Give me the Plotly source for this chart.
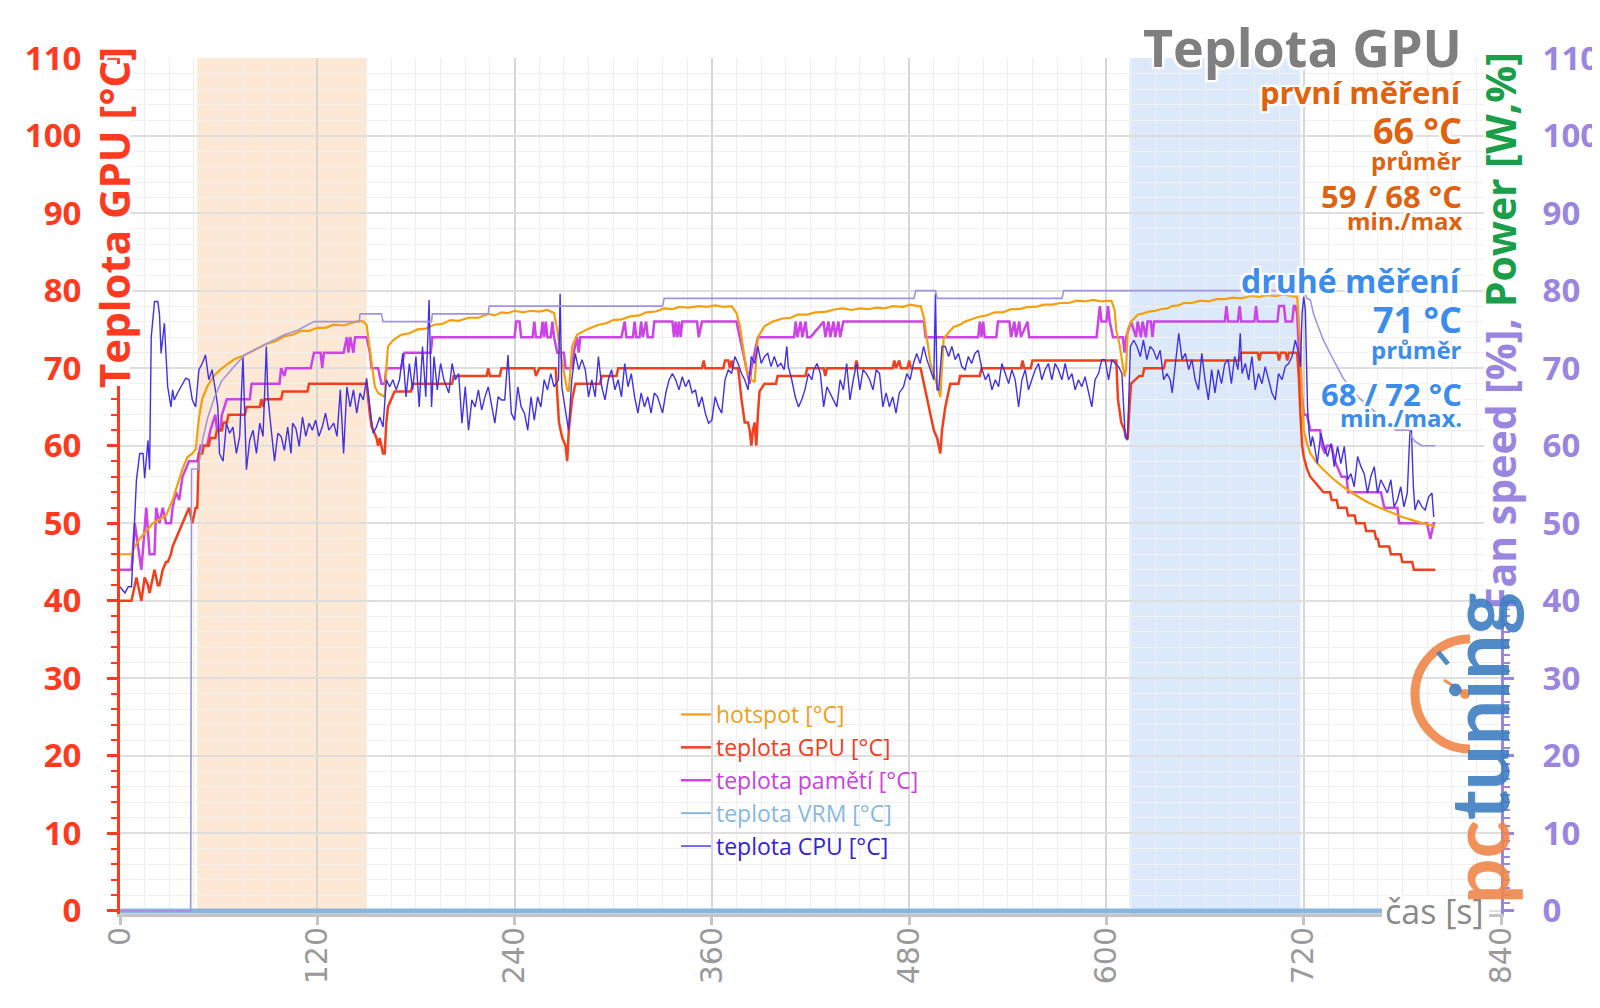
import plotly.graph_objects as go

# ---------------- data (time [s], value) ----------------
hotspot = [(0,46),(7,46),(9,47),(12,48),(16,49),(20,50),(24,50.5),(28,51),(32,53),(35,55),(38,57),(41,58.5),(44,59),(46,59.5),(48,63.5),(50,66),(53,67.6),(57,69),(61,69.8),(66,70.6),(70,71.2),(75,71.6),(80,72.2),(85,72.7),(90,73.2),(95,73.5),(100,74.1),(105,74.3),(110,74.8),(115,74.8),(120,75.2),(125,75.2),(130,75.6),(136,75.5),(142,75.9),(146,76.1),(148,76),(150,75.6),(151,74),(153,71),(155,67.6),(157,66.8),(159,66.5),(161,66.3),(162,70),(163,72.8),(166,73.6),(171,74.3),(176,74.5),(181,75),(186,75.1),(191,75.6),(196,75.7),(201,76.2),(206,76.1),(212,76.5),(218,76.5),(224,77),(228,76.8),(232,77.2),(236,77.1),(240,77.4),(245,77.2),(250,77.4),(255,77.3),(260,77.5),(264,77.1),(266,74.9),(268,71.9),(270,69.5),(272,67.2),(273,67),(274,70),(275,72.8),(278,74.3),(284,75),(291,75.6),(296,75.8),(300,76.2),(305,76.3),(311,76.7),(316,76.8),(320,77.2),(326,77.3),(331,77.7),(336,77.6),(340,77.9),(346,77.8),(352,78),(357,77.9),(362,78.1),(367,77.9),(372,78),(375,77.1),(377,75.5),(379,72.5),(381,69.8),(384,68.5),(386,68.2),(387,71),(388,74),(392,75.4),(397,76),(403,76.4),(408,76.5),(412,76.9),(418,76.9),(423,77.2),(430,77.3),(435,77.6),(440,77.7),(445,77.5),(450,77.7),(455,77.6),(460,77.8),(465,77.7),(470,78),(476,77.9),(481,78.2),(485,78),(487,78),(489,76.5),(491,73.5),(493,70.6),(496,68.5),(498,67),(499,66.3),(500,70),(501,73.8),(504,74.6),(507,75.3),(511,75.6),(514,76),(518,76.3),(522,76.6),(527,76.8),(532,77.2),(537,77.2),(542,77.6),(547,77.6),(552,77.9),(557,77.9),(562,78.2),(567,78.2),(572,78.4),(577,78.4),(582,78.7),(587,78.6),(592,78.8),(597,78.6),(603,78.7),(605,77.5),(606,74.9),(608,73),(609,71.5),(611,68.9),(612,70),(613,75),(615,76),(619,76.9),(623,77.1),(626,77.3),(630,77.4),(633,77.6),(637,77.7),(640,78),(644,78.1),(647,78.4),(652,78.4),(657,78.7),(662,78.6),(667,78.9),(672,78.9),(677,79.1),(682,79),(688,79.3),(693,79.2),(698,79.4),(703,79.3),(708,79.5),(712,79.3),(716,79.2),(717,76),(718,72.8),(719,66.3),(720,62),(722,60.3),(724,59),(728,57.8),(732,56.9),(738,55.7),(744,54.7),(751,53.7),(758,52.8),(765,52.1),(772,51.5),(780,50.8),(789,50.2),(795,49.9),(800,49.6)]

gpu = [(0,40),(7,40),(9,42),(10,43),(12,41),(13,40),(15,43),(17,42),(18,41),(20,43),(21,44),(23,42),(24,42),(26,44),(28,45),(29,45),(31,46),(32,47),(34,48),(36,49),(38,50),(40,51),(42,52),(43,51),(44,50),(46,52),(47,52),(48,59),(50,59),(51,60),(54,60),(55,61),(58,61),(59,62),(62,62),(63,63),(65,63),(66,64),(76,64),(77,65),(85,65),(86,66),(87,65),(88,66),(98,66),(99,67),(114,67),(115,68),(150,68),(152,64),(153,62.5),(155,61.5),(156,61),(157,60),(158,61),(159,60),(160,59),(161,59),(162,63),(163,65),(165,66),(167,67),(177,67),(178,68),(202,68),(203,69),(223,69),(224,70),(225,69),(231,69),(232,70),(252,70),(253,69),(255,70),(265,70),(266,66),(267,63),(269,61),(271,60),(272,58),(273,62),(275,66),(277,68),(292,68),(293,69),(302,69),(303,70),(354,70),(355,71),(356,70),(367,70),(368,71),(370,71),(371,70),(372,71),(373,70),(376,70),(378,66),(380,63),(382,63),(383,62),(384,60),(385,62),(386,63),(387,60),(388,64),(389,67),(392,68),(399,68),(400,69),(417,69),(418,70),(428,70),(429,69),(430,70),(447,70),(448,71),(449,70),(470,70),(471,71),(472,70),(474,71),(475,70),(479,70),(480,71),(481,70),(487,70),(489,68),(491,66),(493,64),(495,62),(497,61),(499,59),(500,62),(502,65),(505,68),(510,68),(511,69),(523,69),(524,70),(548,70),(549,71),(550,70),(554,70),(555,71),(606,71),(607,66),(609,63),(611,62),(612,61),(613,61),(614,65),(615,68),(620,69),(622,69),(623,70),(635,70),(636,71),(681,71),(682,72),(692,72),(693,71),(694,72),(704,72),(705,71),(706,72),(709,72),(710,71),(711,72),(716,72),(717,69),(718,64),(719,60),(720,58.6),(722,57),(724,56),(728,55),(732,54),(736,54),(737,53),(740,53),(741,52),(746,52),(747,51),(751,51),(752,50),(757,50),(758,49),(763,49),(764,48),(765,48),(766,47),(772,47),(773,46),(779,46),(780,45),(786,45),(787,44),(800,44)]

memory = [(0,44),(7,44),(9,50),(11,47),(13,44),(16,52),(18,46),(21,46),(22,52),(24,50),(26,52),(28,50),(31,50),(32,52),(34,54),(36,53),(38,56),(40,57),(42,58),(47,58),(49,60),(53,60),(55,62),(58,64),(59,62),(61,62),(62,64),(65,66),(79,66),(80,68),(97,68),(98,70),(100,69),(101,70),(116,70),(118,72),(122,72),(123,70),(124,72),(136,72),(138,74),(139,72),(140,74),(142,72),(143,74),(150,74),(152,72),(153,70),(157,70),(159,68),(161,68),(162,70),(171,70),(173,72),(189,72),(190,74),(240,74),(241,76),(243,76),(244,74),(251,74),(252,76),(253,74),(256,74),(257,76),(258,74),(259,76),(260,74),(262,74),(263,76),(264,74),(266,72),(270,72),(271,70),(275,70),(276,72),(278,74),(279,72),(280,74),(305,74),(307,76),(308,74),(312,74),(313,76),(314,74),(316,74),(317,76),(318,74),(320,76),(321,74),(324,74),(325,76),(336,76),(337,74),(338,76),(339,74),(340,76),(341,74),(342,76),(351,76),(352,74),(354,76),(375,76),(377,74),(379,72),(381,70),(383,68),(384,70),(386,72),(388,74),(410,74),(411,76),(412,74),(414,76),(415,74),(417,76),(418,74),(420,74),(428,76),(429,74),(431,76),(432,74),(434,76),(435,74),(437,76),(438,74),(440,76),(489,76),(490,74),(522,74),(523,76),(524,74),(525,76),(526,74),(533,74),(534,76),(541,76),(542,74),(544,76),(545,74),(547,76),(548,74),(552,76),(553,74),(594,74),(595,76),(596,78),(597,76),(600,76),(601,78),(602,76),(604,74),(610,74),(611,72),(612,74),(615,76),(618,74),(619,76),(621,74),(622,76),(624,74),(625,76),(627,76),(628,74),(629,76),(672,76),(673,78),(674,76),(680,76),(681,78),(682,76),(690,76),(691,78),(692,76),(704,76),(705,78),(708,78),(709,76),(713,76),(714,78),(715,78),(716,77),(717,72),(718,68.5),(720,64),(722,64),(724,62),(730,62),(731,60),(733,59),(734,60),(737,60),(739,58),(743,56),(746,56),(747,54),(767,54),(769,52),(777,52),(778,50),(795,50),(797,48),(799,50),(800,50)]

vrm = [(0,0),(800,0)]

fan = [(0,0),(43,0),(43.5,57),(47.5,57),(50.5,61),(53.5,63.7),(57.6,66.3),(61.7,68.3),(67.7,69.8),(75.8,71.7),(84,72.6),(92,73.4),(100,74.3),(108,74.9),(118,76),(145.5,76),(146,77),(159,77),(160,76),(189.5,76),(190,77),(224,77),(224.5,78),(330,78),(331,79),(483,79),(484,80),(496,80),(497,79),(573,79),(574,80),(720,80),(722,79),(724,78.8),(726,77),(728,75.8),(732,73.6),(737,71.5),(744,68.7),(753,66.3),(760,65),(768,63.5),(776,62),(784,62),(786,61),(788,60.5),(792,60),(800,60)]

cpu = [(0,41.8),(3,41),(5,41.8),(7,41.8),(10,55.6),(12,59),(14,59),(15,55.8),(17,60.7),(18,56.9),(19,74),(21,78.6),(23,78.6),(24,77),(25,71.9),(27,75.8),(29,67.6),(31,65),(32,67.2),(33,65.9),(35,66.8),(37,67.6),(40,68.7),(42,68.5),(43,67.2),(44,65.9),(46,65),(48,69.8),(50,70.6),(52,71.7),(54,68.5),(56,69.8),(58,67.2),(59.5,65),(60.5,59),(62.7,58),(64.7,62.9),(66.7,61.6),(68.7,62.4),(70.8,59),(72.8,61.2),(74.8,71.5),(76.9,56.9),(78.9,60.7),(80.9,62),(83,59),(85,62.9),(87,61.2),(89,72.8),(90,66.3),(92,62),(94,58),(96,61.6),(98,61.2),(100,59.4),(102,62.4),(104,59),(105,62.9),(107,62.2),(109,59.9),(111,63.7),(113,61.2),(115,62.9),(117,62),(119,63.3),(121,61.2),(123,62.4),(125,64.2),(127,62),(130,62.9),(132,61.2),(134,67.2),(136,59),(138,67.6),(140,65),(142,67.2),(144,64.2),(146,66.8),(148,65.9),(150,68.7),(152,65),(154,61.6),(156,62.4),(158,63.7),(160,62.4),(162,68.5),(164,67.6),(166,68.5),(168,67.2),(170,68.5),(172,71.9),(174,66.3),(176,70.6),(178,67.2),(180,71.5),(182,65),(184,72.8),(186,66.3),(188,78.8),(189.5,65),(191,71.5),(193,67.2),(195,70.6),(197,68.5),(200,66.8),(202,70.6),(204,68.5),(206,69.3),(208,62.9),(210,67.6),(212,62),(214,65.9),(216,65),(218,67.2),(220,64.6),(222,66.3),(224,67.6),(226,65),(228,62.9),(230,66.3),(232,65.9),(234,65.9),(236,71.7),(238,64.2),(240,63.3),(242,67.6),(244,65),(246,64.2),(248,62),(250,66.3),(252,63.3),(254,66.3),(256,65),(258,68.5),(260,67.2),(262,69.3),(264,67.6),(266.7,68.5),(267.7,79.6),(268.7,67.6),(270.8,65),(272.8,62),(274.8,68.5),(276.9,71.9),(279,69.8),(281,71.1),(283,69.8),(285,66.3),(287,68.5),(289,66.3),(291,71.5),(293,67.6),(295,65.9),(297,68.5),(299,69.8),(301,67.2),(303,68.5),(305,66.3),(307,70.6),(309,67.6),(311,69.3),(313,66.3),(315,64.2),(317,66.8),(319,65),(321,66.3),(323,64.2),(325,66.8),(327,66.3),(330,64.2),(332,66.8),(334,68.5),(336,69.3),(338,68.5),(340,67.2),(342,68.9),(344,67.6),(346,68.5),(348,66.8),(350,67.2),(352,65),(354,66.3),(356,64.2),(358,62.9),(360,63.3),(362,66.3),(364,65),(366,64.2),(368,68.5),(370,69.8),(372,69.3),(374,71.5),(376,70.6),(378,69.3),(380,68.5),(382,67.2),(384,71.5),(386,70.6),(388,72.8),(390,70.6),(392,71.5),(394,71.9),(396,70.2),(398,71.5),(400,70.2),(402,70.6),(404,69.8),(405.6,72.8),(406.5,70.2),(408.6,68.5),(410.7,66.3),(412.7,65),(414.6,65.9),(416.6,67.2),(418.7,69.3),(420.8,68.5),(422,69.8),(424,70.6),(426,69.3),(428,65),(430,67.6),(432,66.8),(434,65.9),(436,65),(438,68.5),(440,67.2),(442,70.6),(444,65.9),(446,68.5),(448,70.6),(450,67.2),(452,69.8),(454,69.3),(456,68.5),(458,67.2),(460,69.8),(462,69.3),(464,65),(466,66.8),(468,65),(470,66.3),(472,64.2),(474,66.8),(476.6,67.6),(478.6,69.3),(480.6,68.5),(482.6,70.6),(484.6,71.9),(486.7,70.6),(488.8,72.8),(490.8,71.1),(493,69.8),(495,68.5),(496,79.6),(497,67.2),(498,67.2),(500,72.8),(502,72.8),(504,71.5),(506,72.8),(508,71.1),(510,71.9),(512,70.2),(514,69.8),(516,71.5),(518,70.6),(520,71.9),(522,72.3),(524.4,69.8),(526.4,68.5),(528.3,69.3),(530.4,67.2),(532.4,68.5),(534.4,67.6),(536.4,70.6),(538.5,69.3),(540.5,68),(542.5,69.8),(544.5,68.5),(546.6,65),(548.6,68.5),(550.6,69.8),(552.6,67.2),(554.6,68.5),(556.7,69.8),(558.7,70.6),(560.7,68.5),(562.7,69.8),(564.7,70.6),(566.8,68.5),(568.8,70.6),(570.8,69.8),(572.9,68.5),(574.9,70.6),(577,68.5),(579,69.3),(581,67.2),(583,68.5),(585,67.6),(587,68.9),(589,66.8),(591.1,65),(593.1,68.5),(595.2,69.3),(597.2,71.1),(599.2,71.1),(601.3,68.5),(603.3,71.1),(605.3,70.6),(607.4,70.2),(609.4,69.3),(611.4,61.2),(612.8,60.7),(614.6,72.8),(616.6,73.6),(618.6,72.8),(620.6,71.5),(622.5,73.6),(624.6,71.1),(626.6,72.8),(628.6,72.3),(630.7,71.1),(632.7,72.3),(634.8,68.5),(636.8,69.3),(638.8,68.5),(640,66.8),(642,71.1),(644,74.5),(646,71.1),(648,71.9),(650,69.8),(652,71.1),(654,68.5),(656,67.2),(658,71.9),(660,68.5),(662,65.9),(664,69.8),(666,66.8),(668,69.8),(670,68),(672,70.6),(674,71.1),(676,68),(678,71.5),(680,69.8),(681.4,74.5),(682.5,69.3),(684.5,70.6),(686.5,68.5),(688.5,71.5),(690.5,67.2),(692.5,69.3),(694.6,68),(696.6,70.2),(698.7,68.5),(700.7,66.8),(702.7,65.9),(704.7,69.3),(706.8,68.5),(708.8,70.2),(710.8,70.6),(712.9,71.5),(714.9,73.6),(717,71.9),(718,70.2),(719,77),(720,79.2),(721,77.5),(722.3,65),(723.3,61.6),(724.3,59.9),(725.3,61.2),(726.3,60.3),(728.3,57.7),(730.4,61.6),(732.4,59.9),(734.5,58.6),(736.6,60.3),(738.6,57.3),(740.6,59.9),(742.6,57.7),(744.7,59.9),(746.7,55.6),(748.7,56.4),(750.7,54.7),(752.8,58.6),(754.8,57.3),(756.8,56.4),(758.8,53.9),(760.8,56),(762.9,57.3),(764.9,53.9),(766.9,55.6),(768.9,54.7),(770.9,53.9),(773,55.6),(775,52.1),(777,53),(779,54.7),(781,52.1),(783,53.9),(784.6,61.8),(785.5,62),(786.7,54.7),(787.7,51.7),(789.7,53),(791.9,52.1),(793.9,51.7),(796,53.4),(798,53.9),(799.1,50.8)]

x_ticks = [0, 120, 240, 360, 480, 600, 720, 840]
band_first = (47, 150)
band_second = (614, 718)

stats_lines = [
    ("Teplota GPU", 52, "#7f7f7f", 46),
    ("první měření", 31, "#e0610e", 92),
    ("66 °C", 36, "#e0610e", 130),
    ("průměr", 24, "#e0610e", 160),
    ("59 / 68 °C", 31, "#e0610e", 196),
    ("min./max", 24, "#e0610e", 220),
    ("druhé měření", 32, "#3b8ded", 280),
    ("71 °C", 36, "#3b8ded", 319),
    ("průměr", 24, "#3b8ded", 349),
    ("68 / 72 °C", 31, "#3b8ded", 394),
    ("min./max.", 24, "#3b8ded", 417),
]

# ---------------- styling ----------------
RED = "#ff3b1f"
PURPLE = "#9a86e0"
GREEN = "#1a9e4a"
FONT = "Open Sans"
HALO = ("2px 0px 0px #fff, -2px 0px 0px #fff, 0px 2px 0px #fff, 0px -2px 0px #fff, "
        "2px 2px 0px #fff, -2px -2px 0px #fff, 2px -2px 0px #fff, -2px 2px 0px #fff, "
        "0px 0px 4px #fff, 0px 0px 6px #fff")

# the page places the figure 8 px from the top-left corner of the window
OFF = 8
W, H = 1600 - OFF, 1008 - OFF
SL, SR, ST, SB = 120, 1501, 58, 914          # plot area in window pixels
L, T = SL - OFF, ST - OFF
R, B = W - (SR - OFF), H - (SB - OFF)
PW, PH = SR - SL, SB - ST


def px(X):
    return (X - SL) / PW


def py(Y):
    return (SB - Y) / PH


def unzip(pairs):
    return [p[0] for p in pairs], [p[1] for p in pairs]


fig = go.Figure()

# (legend name, data, colour, width, axis, legend rank or None)
series = [
    ("fan", fan, "#a193e2", 1.6, "y2", None),
    ("teplota VRM", vrm, "#8ab6de", 5, "y", None),
    ("<span style='color:#c844e0'>teplota pamětí [°C]</span>", memory, "#cc44e6", 2.5, "y", 3),
    ("<span style='color:#f0401e'>teplota GPU [°C]</span>", gpu, "#f2401c", 2.5, "y", 2),
    ("<span style='color:#f0a01c'>hotspot [°C]</span>", hotspot, "#f4a00e", 2.2, "y", 1),
    ("<span style='color:#3322d6'>teplota CPU [°C]</span>", cpu, "#4030e6", 1.4, "y", 5),
]
for name, data, color, width, yax, rank in series:
    xs, ys = unzip(data)
    kw = dict(legendrank=rank, showlegend=True) if rank else dict(showlegend=False)
    fig.add_trace(go.Scatter(x=xs, y=ys, mode="lines", name=name, yaxis=yax,
                             line=dict(color=color, width=width),
                             hoverinfo="skip", **kw))

# legend entry for the VRM series drawn with a thin sample line
fig.add_trace(go.Scatter(x=[None], y=[None], mode="lines",
                         name="<span style='color:#88b8e4'>teplota VRM [°C]</span>",
                         line=dict(color="#8ab6de", width=2), legendrank=4, showlegend=True))

# bands
for (a, b), col in [(band_first, "#fde8d6"), (band_second, "#dbe9fb")]:
    fig.add_shape(type="rect", xref="x", yref="paper", x0=a, x1=b, y0=0, y1=1,
                  fillcolor=col, line=dict(width=0), layer="below")

# white backing under the axis titles (they sit on top of the axis lines)
for x0, x1, y0, y1 in [(94, 130, 64, 386), (1484, 1519, 63, 606), (1382, 1489, 896, 928)]:
    fig.add_shape(type="rect", xref="paper", yref="paper", x0=px(x0), x1=px(x1),
                  y0=py(y1), y1=py(y0), fillcolor="white", line=dict(width=0), layer="above")

fig.update_layout(
    width=W, height=H,
    margin=dict(l=L, r=R, t=T, b=B, autoexpand=False),
    plot_bgcolor="white", paper_bgcolor="white",
    font=dict(family=FONT),
    legend=dict(x=px(676), y=py(693), xanchor="left", yanchor="top",
                bgcolor="rgba(0,0,0,0)", font=dict(size=23, family=FONT),
                itemwidth=30, tracegroupgap=0, traceorder="normal"),
    xaxis=dict(range=[0, 840], tickmode="array", tickvals=x_ticks,
               ticktext=[str(v) for v in x_ticks], tickangle=-90, automargin=False,
               tickfont=dict(size=30, color="#9a9a9a", family="DejaVu Sans"),
               ticks="outside", ticklen=8, tickwidth=3, tickcolor="#c4c4c4",
               ticklabelstandoff=-10,
               showline=True, linecolor="#c4c4c4", linewidth=3,
               showgrid=True, gridcolor="#d6d6d6", gridwidth=1.5, zeroline=False,
               minor=dict(dtick=15, tick0=0, showgrid=True, gridcolor="#eeeeee", gridwidth=1)),
    yaxis=dict(range=[-0.4, 110], tickmode="linear", tick0=0, dtick=10, automargin=False,
               tickfont=dict(size=33, color=RED, family=FONT, weight="bold"),
               ticks="outside", ticklen=10, tickwidth=3, tickcolor=RED,
               showline=True, linecolor=RED, linewidth=3, ticklabelstandoff=19,
               showgrid=True, gridcolor="#dedede", gridwidth=2, zeroline=False,
               minor=dict(dtick=2, tick0=0, ticks="outside", ticklen=6, tickwidth=2,
                          tickcolor=RED, showgrid=True, gridcolor="#f0f0f0", gridwidth=1)),
    yaxis2=dict(range=[-0.4, 110], overlaying="y", side="right", tickmode="linear",
                tick0=0, dtick=10, automargin=False,
                tickfont=dict(size=33, color=PURPLE, family=FONT, weight="bold"),
                ticks="outside", ticklen=10, tickwidth=3, tickcolor=PURPLE,
                showline=True, linecolor=PURPLE, linewidth=3, ticklabelstandoff=22,
                showgrid=False, zeroline=False,
                minor=dict(dtick=1, tick0=0, ticks="outside", ticklen=6, tickwidth=2,
                           tickcolor=PURPLE)),
)

ann = []
for text, size, color, yc in stats_lines:
    ann.append(dict(text=f"<b>{text}</b>", x=px(1464), y=py(yc), xref="paper", yref="paper",
                    xanchor="right", yanchor="middle", showarrow=False,
                    font=dict(size=size, color=color, family=FONT, shadow=HALO)))

# axis titles
ann.append(dict(text="<b>Teplota GPU [°C]</b>", x=px(113), y=py(218), xref="paper", yref="paper",
                xanchor="center", yanchor="middle", textangle=-90, showarrow=False,
                font=dict(size=42, color=RED, family=FONT, shadow=HALO)))
ann.append(dict(text=f"<b><span style='color:{PURPLE}'>Fan speed [%], </span><span style='color:{GREEN}'>Power [W,%]</span></b>",
                x=px(1500), y=py(331), xref="paper", yref="paper",
                xanchor="center", yanchor="middle", textangle=-90, showarrow=False,
                font=dict(size=41, family=FONT, shadow=HALO)))
ann.append(dict(text="čas [s]", x=px(1486), y=py(911), xref="paper", yref="paper",
                xanchor="right", yanchor="middle", showarrow=False,
                font=dict(size=34, color="#8a8a8a", family=FONT, shadow=HALO)))

# logo
ann.append(dict(text="<b><span style='color:#f0874a'>pc</span><span style='color:#3f7fc2'>tuning</span></b>",
                x=px(1478), y=py(748), xref="paper", yref="paper",
                xanchor="center", yanchor="middle", textangle=-90, showarrow=False,
                opacity=0.9, font=dict(size=80, family="Lato")))
fig.update_layout(annotations=ann)

# gauge arc of logo (paper coords)
cx, cy, r = 1470, 694, 55
k = 0.5523


def P(X, Y):
    return f"{px(X):.5f},{py(Y):.5f}"


arc = (f"M {P(cx, cy - r)} C {P(cx - k * r, cy - r)} {P(cx - r, cy - k * r)} {P(cx - r, cy)} "
       f"C {P(cx - r, cy + k * r)} {P(cx - k * r, cy + r)} {P(cx, cy + r)}")
fig.add_shape(type="path", xref="paper", yref="paper", path=arc,
              line=dict(color="#f0874a", width=9), opacity=0.9)
fig.add_shape(type="line", xref="paper", yref="paper", x0=px(cx - 4), y0=py(cy),
              x1=px(cx - 26), y1=py(cy - 14), line=dict(color="#f0874a", width=3), opacity=0.9)
fig.add_shape(type="circle", xref="paper", yref="paper", x0=px(cx - 10), x1=px(cx),
              y0=py(cy - 5), y1=py(cy + 5), fillcolor="#f0874a", line=dict(width=0), opacity=0.9)
fig.add_shape(type="line", xref="paper", yref="paper", x0=px(1438), y0=py(652),
              x1=px(1448), y1=py(664), line=dict(color="#3f7fc2", width=5), opacity=0.9)

fig.write_html("out.html")
